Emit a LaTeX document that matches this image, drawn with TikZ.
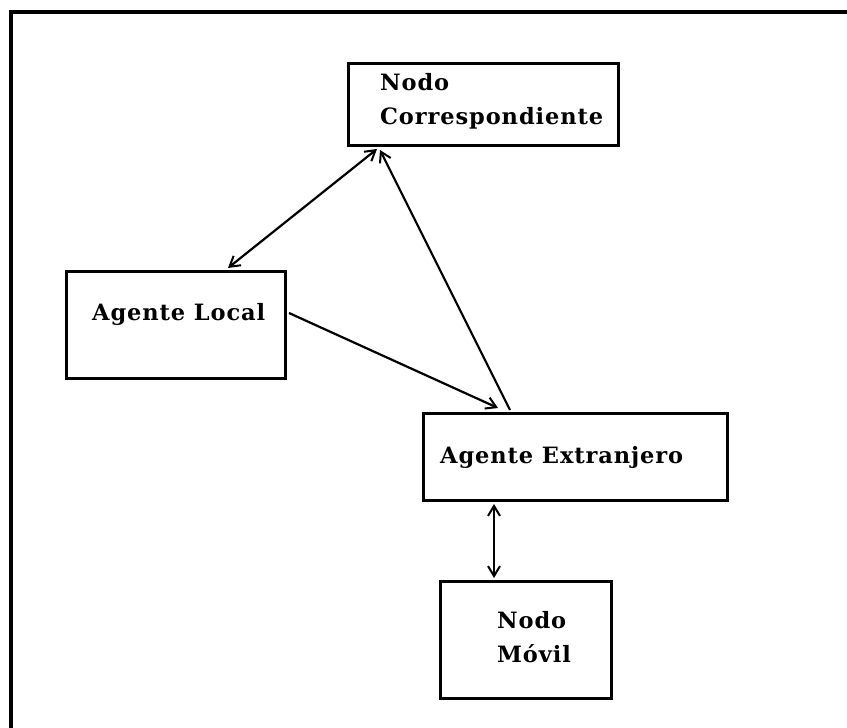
\documentclass[tikz,border=0pt]{standalone}
\usepackage{fontspec}
\setmainfont{DejaVu Serif}[LetterSpace=4]
\usetikzlibrary{arrows.meta,calc}
\begin{document}
\begin{tikzpicture}[x=1pt,y=-1pt,
  box/.style={draw,line width=3pt,rectangle,inner sep=0pt,anchor=north west},
  lbl/.style={font=\fontsize{22.5}{34}\selectfont\bfseries,inner sep=0pt,align=left},
  barb/.tip={Straight Barb[length=10pt,width=12pt,line width=2pt]},
  link/.style={line width=2.2pt,-barb},
  twoway/.style={line width=2.2pt,barb-barb}]
  \useasboundingbox (0,0) rectangle (847,728);
  \fill[white] (0,0) rectangle (847,728);
  % outer frame, open towards the right and the bottom
  \draw[line width=3.2pt] (11,728) -- (11,12) -- (847,12);

  % boxes
  \node[box,minimum width=270pt,minimum height=82pt] (corr) at (347,62) {};
  \node[box,minimum width=219pt,minimum height=107pt] (local) at (65,270) {};
  \node[box,minimum width=304pt,minimum height=87pt] (ext) at (422,412) {};
  \node[box,minimum width=171pt,minimum height=117pt] (movil) at (439,580) {};

  % labels
  \node[lbl,anchor=base west] (corrtxt) at (380,90) {Nodo};
  \node[lbl,anchor=base west] (corrtxt2) at (380,124) {Correspondiente};
  \node[lbl,anchor=base west] (localtxt) at (92,320) {Agente Local};
  \node[lbl,anchor=base west] (exttxt) at (440,463) {Agente Extranjero};
  \node[lbl,anchor=base west] (movtxt) at (497,628) {Nodo};
  \node[lbl,anchor=base west] (movtxt2) at (497,662) {Móvil};

  % connector end points on the box edges
  \coordinate (c1) at ($(corr.south west)+(30,2)$);
  \coordinate (c2) at ($(corr.south west)+(33,3)$);
  \coordinate (l1) at ($(local.north west)+(163,-2)$);
  \coordinate (l2) at ($(local.north east)+(2,43)$);
  \coordinate (e1) at ($(ext.north west)+(76,-4)$);
  \coordinate (e2) at ($(ext.north west)+(88,-2)$);
  \coordinate (e3) at ($(ext.south west)+(72,2)$);
  \coordinate (m1) at ($(movil.north west)+(55,-2)$);

  \draw[twoway] (c1) -- (l1);
  \draw[link] (l2) -- (e1);
  \draw[link] (e2) -- (c2);
  \draw[twoway] (e3) -- (m1);
\end{tikzpicture}
\end{document}
